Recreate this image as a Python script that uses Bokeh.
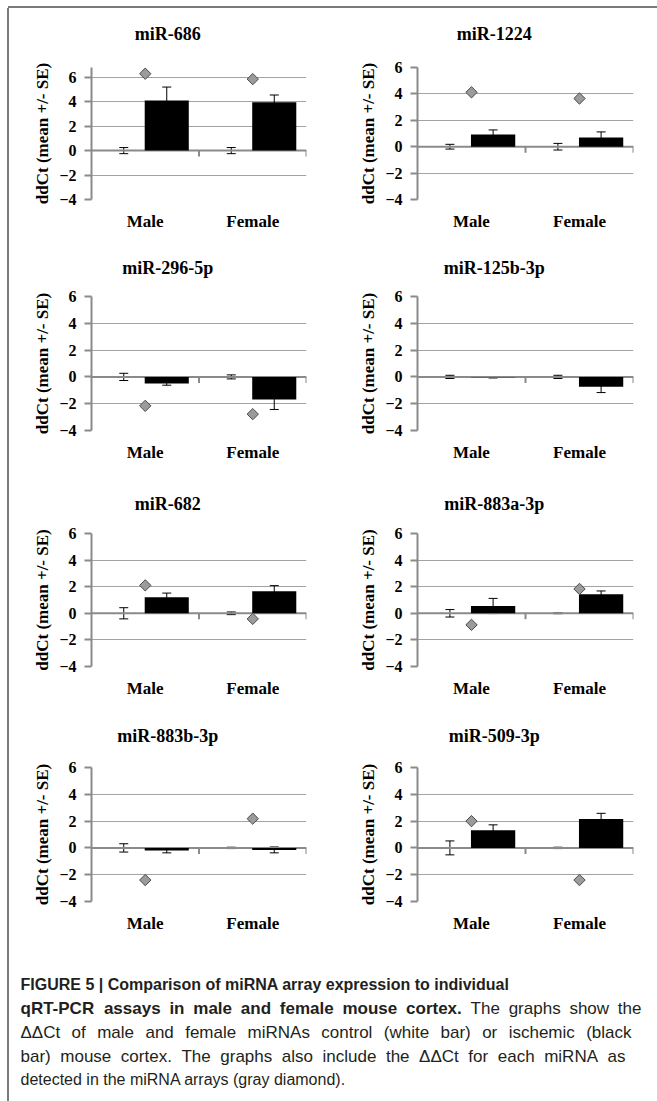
import numpy as np
from bokeh.plotting import figure
from bokeh.models import (Range1d, FixedTicker, CustomJSTickFormatter, ColumnDataSource,
                          Whisker, TeeHead, Label, Spacer, Div)
from bokeh.layouts import row, column
from bokeh.embed import file_html
from bokeh.resources import INLINE

# ---------------- data ----------------
mirnas = ["miR-686", "miR-1224", "miR-296-5p", "miR-125b-3p",
          "miR-682", "miR-883a-3p", "miR-883b-3p", "miR-509-3p"]
sexes = ["Male", "Female"]

control_mean = [[0, 0], [0, 0], [0, 0], [0, 0], [0, 0], [0, 0], [0, 0], [0, 0]]
control_se = [[0.25, 0.25], [0.18, 0.25], [0.27, 0.15], [0.12, 0.12],
              [0.42, 0.10], [0.28, 0.03], [0.31, 0.05], [0.52, 0.05]]
ischemic_mean = [[4.10, 3.95], [0.92, 0.70], [-0.50, -1.69], [-0.03, -0.74],
                 [1.20, 1.65], [0.55, 1.43], [-0.20, -0.15], [1.32, 2.15]]
ischemic_se = [[1.10, 0.60], [0.35, 0.42], [0.12, 0.74], [0.05, 0.43],
               [0.32, 0.43], [0.57, 0.25], [0.17, 0.22], [0.40, 0.43]]
array_ddct = [[6.29, 5.85], [4.12, 3.65], [-2.16, -2.78], [np.nan, np.nan],
              [2.10, -0.42], [-0.87, 1.83], [-2.40, 2.18], [2.00, -2.40]]

y_max = [6.8, 6, 6, 6, 6, 6, 6, 6]
y_ticks = [-4, -2, 0, 2, 4, 6]
y_label = "ddCt (mean +/- SE)"

# caption: (text, style) segments per line; right edge to justify to (None = ragged)
caption_lines = [
    ([("FIGURE 5 | Comparison of miRNA array expression to individual", "bold")], None),
    ([("qRT-PCR assays in male and female mouse cortex.", "bold"),
      ("The graphs show the", "normal")], 641),
    ([("\u0394\u0394Ct of male and female miRNAs control (white bar) or ischemic (black", "normal")], 631),
    ([("bar) mouse cortex. The graphs also include the \u0394\u0394Ct for each miRNA as", "normal")], 625),
    ([("detected in the miRNA arrays (gray diamond).", "normal")], None),
]

# ---------------- style / layout ----------------
SERIF = "Liberation Serif"
SANS = "Liberation Sans"
AXIS_GRAY = "#8a8a8a"
GRID_GRAY = "#a3a3a3"
FRAME_GRAY = "#7a7a7a"
TITLE_X = 0.71   # title centre, in category units of the panel's x range

col_geom = [dict(width=320, left=82, right=23),
            dict(width=328, left=88, right=24)]
row_geom = [dict(title_h=45, title_y=25, height=192, top=14, bottom=46),
            dict(title_h=40, title_y=22, height=195, top=11, bottom=50),
            dict(title_h=40, title_y=23, height=195, top=13, bottom=49),
            dict(title_h=40, title_y=20, height=195, top=12, bottom=49)]


def make_title(i):
    r, c = divmod(i, 2)
    cg, rg = col_geom[c], row_geom[r]
    t = figure(width=cg["width"], height=rg["title_h"], title=None,
               x_range=Range1d(0, 2), y_range=Range1d(rg["title_h"], 0),
               x_axis_type=None, y_axis_type=None, output_backend="svg",
               toolbar_location=None, min_border_left=cg["left"], min_border_right=cg["right"],
               min_border_top=0, min_border_bottom=0)
    t.grid.visible = False
    t.outline_line_color = None
    t.add_layout(Label(x=TITLE_X, y=rg["title_y"], text=mirnas[i], text_font=SERIF,
                       text_font_style="bold", text_font_size="18px",
                       text_align="center", text_baseline="middle", text_color="black"))
    return t


def make_panel(i):
    r, c = divmod(i, 2)
    cg, rg = col_geom[c], row_geom[r]
    p = figure(width=cg["width"], height=rg["height"], title=None,
               x_range=Range1d(0, 2), y_range=Range1d(-4, y_max[i]),
               output_backend="svg", toolbar_location=None,
               min_border_left=cg["left"], min_border_right=cg["right"],
               min_border_top=rg["top"], min_border_bottom=rg["bottom"])
    p.outline_line_color = None
    p.background_fill_color = "white"
    p.border_fill_color = "white"

    frame_h = rg["height"] - rg["top"] - rg["bottom"]
    ppu = frame_h / (y_max[i] + 4)

    ticker = FixedTicker(ticks=y_ticks)
    yax = p.yaxis[0]
    yax.ticker = ticker
    yax.axis_line_color = AXIS_GRAY
    yax.axis_line_width = 2
    yax.major_tick_line_color = AXIS_GRAY
    yax.major_tick_line_width = 2
    yax.major_tick_out = 7
    yax.major_tick_in = 0
    yax.minor_tick_line_color = None
    yax.major_label_text_font = SERIF
    yax.major_label_text_font_style = "bold"
    yax.major_label_text_font_size = "16px"
    yax.major_label_text_color = "black"
    yax.major_label_standoff = 8
    yax.axis_label = y_label
    yax.axis_label_text_font = SERIF
    yax.axis_label_text_font_style = "bold"
    yax.axis_label_text_font_size = "17px"
    yax.axis_label_text_color = "black"
    yax.axis_label_standoff = 4

    p.ygrid.ticker = ticker
    p.ygrid.grid_line_color = GRID_GRAY
    p.ygrid.grid_line_width = 1
    p.xgrid.visible = False

    xax = p.xaxis[0]
    xax.ticker = FixedTicker(ticks=[0.5, 1.5])
    xax.formatter = CustomJSTickFormatter(args=dict(labels=sexes),
                                          code="return labels[Math.floor(tick)]")
    xax.axis_line_color = None
    xax.major_tick_line_color = None
    xax.minor_tick_line_color = None
    xax.major_label_text_font = SERIF
    xax.major_label_text_font_style = "bold"
    xax.major_label_text_font_size = "17px"
    xax.major_label_text_color = "black"
    xax.major_label_standoff = 6

    # horizontal axis line at zero with category-boundary ticks
    p.segment(x0=[0], y0=[0], x1=[2], y1=[0], line_color=AXIS_GRAY, line_width=2)
    tl = 6 / ppu
    p.segment(x0=[1, 2], y0=[0, 0], x1=[1, 2], y1=[-tl, -tl], line_color=AXIS_GRAY, line_width=2)

    idx = np.arange(len(sexes))
    cm = np.array(control_mean[i], dtype=float)
    cs = np.array(control_se[i], dtype=float)
    im = np.array(ischemic_mean[i], dtype=float)
    ise = np.array(ischemic_se[i], dtype=float)
    src = ColumnDataSource(dict(
        xc=idx + 0.3, xi=idx + 0.7, xd=idx + 0.5,
        cm=cm, cu=cm + cs, cl=cm - cs,
        im=im, iu=im + ise, il=im - ise,
        arr=np.array(array_ddct[i], dtype=float)))

    p.vbar(x="xc", top="cm", bottom=0, width=0.41, source=src,
           fill_color="white", line_color=None)
    p.vbar(x="xi", top="im", bottom=0, width=0.41, source=src,
           fill_color="black", line_color=None)

    for base, up, lo in (("xc", "cu", "cl"), ("xi", "iu", "il")):
        w = Whisker(source=src, base=base, upper=up, lower=lo, dimension="height",
                    line_color="black", line_width=1,
                    upper_head=TeeHead(size=9, line_color="black", line_width=1),
                    lower_head=TeeHead(size=9, line_color="black", line_width=1))
        p.add_layout(w)

    p.scatter(x="xd", y="arr", source=src, marker="square", angle=np.pi / 4,
              size=8, fill_color="#9b9b9b", line_color="#4a4a4a", line_width=1)
    return p


cells = [column(make_title(i), make_panel(i)) for i in range(len(mirnas))]

# ---------------- caption ----------------
# Helvetica / Arial advance widths (1/1000 em) for justification
_REG = {" ": 278, "(": 333, ")": 333, "-": 333, ".": 278, "|": 260, "\u0394": 668,
        "A": 667, "C": 722, "F": 611, "G": 778, "I": 278, "N": 722, "P": 667, "R": 722,
        "T": 611, "U": 722, "E": 667,
        "a": 556, "b": 556, "c": 500, "d": 556, "e": 556, "f": 278, "g": 556, "h": 556,
        "i": 222, "k": 500, "l": 222, "m": 833, "n": 556, "o": 556, "p": 556, "q": 556,
        "r": 333, "s": 500, "t": 278, "u": 556, "v": 500, "w": 722, "x": 500, "y": 500}
_BOLD = {" ": 278, "(": 333, ")": 333, "-": 333, ".": 278, "|": 280, "\u0394": 722,
         "A": 722, "C": 722, "F": 611, "G": 778, "I": 278, "N": 722, "P": 667, "R": 722,
         "T": 611, "U": 722, "E": 667,
         "a": 556, "b": 611, "c": 556, "d": 611, "e": 556, "f": 333, "g": 611, "h": 611,
         "i": 278, "k": 556, "l": 278, "m": 889, "n": 611, "o": 611, "p": 611, "q": 611,
         "r": 389, "s": 556, "t": 333, "u": 611, "v": 556, "w": 778, "x": 556, "y": 556}
_REG.update({d: 556 for d in "0123456789"})
_BOLD.update({d: 556 for d in "0123456789"})

FS_RAGGED = 16
FS_JUST = 17
CAP_LEFT = 20
line_y = [984, 1008, 1032, 1056, 1079]


def text_w(s, style, fs):
    tbl = _BOLD if style == "bold" else _REG
    return sum(tbl.get(ch, 556) for ch in s) * fs / 1000.0


cap = figure(width=648, height=151, title=None, x_range=Range1d(0, 648), y_range=Range1d(151, 0),
             x_axis_type=None, y_axis_type=None, output_backend="svg",
             toolbar_location=None, min_border=0)
cap.grid.visible = False
cap.outline_line_color = None


def cap_label(x, y, txt, style, fs):
    cap.add_layout(Label(x=x - 9, y=y - 950, text=txt, text_font=SANS,
                         text_font_style=style, text_font_size=f"{fs}px",
                         text_align="left", text_baseline="middle", text_color="#231f20"))


for li, (parts, right) in enumerate(caption_lines):
    if right is None:
        x = CAP_LEFT
        for txt, style in parts:
            cap_label(x, line_y[li], txt, style, FS_RAGGED)
            x += text_w(txt + " ", style, FS_RAGGED)
        continue
    words = [(w, style) for txt, style in parts for w in txt.split(" ")]
    natural = sum(text_w(w, s, FS_JUST) for w, s in words)
    gap = (right - CAP_LEFT - natural) / (len(words) - 1)
    x = CAP_LEFT
    for w, style in words:
        cap_label(x, line_y[li], w, style, FS_JUST)
        x += text_w(w, style, FS_JUST) + gap

body = column(row(cells[0], cells[1]), row(cells[2], cells[3]),
              row(cells[4], cells[5]), row(cells[6], cells[7]), cap)

bg = {"background-color": FRAME_GRAY}
root = column(
    Spacer(width=657, height=6),
    row(Spacer(width=8, height=2), Div(text="", width=649, height=2, margin=0, styles=bg)),
    row(Spacer(width=7, height=1093), Div(text="", width=2, height=1093, margin=0, styles=bg), body),
)

open("out.html", "w").write(file_html(root, INLINE))
